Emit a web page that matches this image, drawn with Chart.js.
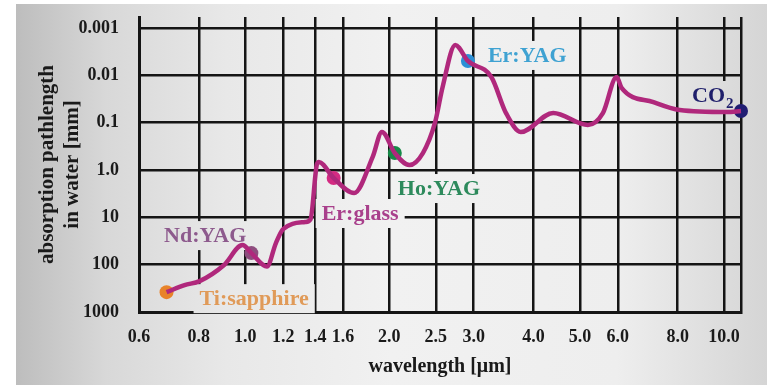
<!DOCTYPE html>
<html>
<head>
<meta charset="utf-8">
<script src="https://cdn.jsdelivr.net/npm/chart.js@4.4.1/dist/chart.umd.min.js"></script>
<style>
  html, body { margin: 0; padding: 0; background: #fff; }
  canvas { display: block; }
</style>
</head>
<body>
<canvas id="waterChart" width="767" height="385"></canvas>
<script>
// absorption curve of water
const wavelength = [0.685, 0.747, 0.803, 0.902, 0.987, 1.03, 1.11, 1.159, 1.2, 1.334, 1.369, 1.412, 1.425,
  1.53, 1.688, 1.846, 1.93, 2.053, 2.202, 2.35, 2.49, 2.584, 2.746, 2.918, 3.266, 3.505, 3.762,
  4.398, 5.197, 5.584, 5.967, 6.11, 7.12, 8.08, 10.14, 10.85];
const pathlength = [381, 271, 223, 103, 38.7, 57, 110, 35, 17.8, 12.6, 11, 0.75, 0.68,
  1.48, 3.08, 0.53, 0.158, 0.44, 0.79, 0.44, 0.102, 0.0177, 0.00229, 0.005, 0.0109, 0.063, 0.158,
  0.0627, 0.112, 0.063, 0.0109, 0.0185, 0.037, 0.0542, 0.0597, 0.057];

// laser lines
const laserNames = ['Ti:sapphire', 'Nd:YAG', 'Er:glass', 'Ho:YAG', 'Er:YAG', 'CO2'];
const laserWavelength = [0.685, 1.03, 1.53, 2.053, 2.918, 10.85];
const laserPathlength = [381, 57, 1.48, 0.44, 0.005, 0.057];

const xTicks = [0.6, 0.8, 1.0, 1.2, 1.4, 1.6, 2.0, 2.5, 3.0, 4.0, 5.0, 6.0, 8.0, 10.0];
const xTickLabels = ['0.6', '0.8', '1.0', '1.2', '1.4', '1.6', '2.0', '2.5', '3.0', '4.0', '5.0', '6.0', '8.0', '10.0'];
const yTicks = [0.001, 0.01, 0.1, 1, 10, 100, 1000];
const yTickLabels = ['0.001', '0.01', '0.1', '1.0', '10', '100', '1000'];

const X_MIN = 0.6, X_MAX = 10.85, Y_TOP = 0.00059, Y_BOTTOM = 1000;

const dotColors = ['#e8832a', '#8e4d7e', '#d42a82', '#178a48', '#2b8fd6', '#201c72'];
const textColors = ['#e09a58', '#8d5a8d', '#a9408c', '#2d8a5c', '#3fa2d2', '#1f1f6b'];
// [dx, dy, align] of the label baseline relative to its dot
const labelPlace = [[33, 13, 'left'], [-5, -11, 'right'], [-12, 42, 'left'], [3, 42, 'left'], [20, 1, 'left'], [-49, -9, 'left']];

const serif = 'Liberation Serif';
const ink = '#151515';

// grey panel behind everything; label boxes reuse it so they blend in
function panelGradient(ctx) {
    const g = ctx.createLinearGradient(16, 0, 767, 0);
    [[0, '#bdbdbd'], [0.12, '#d8d8d8'], [0.28, '#e8e8e8'], [0.5, '#f1f1f1'], [0.8, '#eeeeee'], [1, '#d5d5d5']]
        .forEach(([o, c]) => g.addColorStop(o, c));
    return g;
}

const panel = {
    id: 'panel',
    beforeDraw(chart) {
        const { ctx, width, height } = chart;
        ctx.save();
        ctx.fillStyle = '#ffffff';
        ctx.fillRect(0, 0, width, height);
        ctx.fillStyle = panelGradient(ctx);
        ctx.fillRect(16, 4, width - 16, height - 4);
        ctx.restore();
    }
};

const laserLabels = {
    id: 'laserLabels',
    beforeDatasetsDraw(chart) {
        const { ctx, scales: { x, y } } = chart;
        ctx.save();
        laserNames.forEach((name, i) => {
            const m = name.match(/^(.*?)(\d)$/);
            const base = m ? m[1] : name;
            const sub = m ? m[2] : '';
            ctx.font = 'bold 22px "' + serif + '"';
            const wBase = ctx.measureText(base).width;
            ctx.font = 'bold 15px "' + serif + '"';
            const wSub = sub ? ctx.measureText(sub).width + 1 : 0;
            const w = wBase + wSub;
            const px = x.getPixelForValue(laserWavelength[i]);
            const py = y.getPixelForValue(laserPathlength[i]);
            const [dx, dy, align] = labelPlace[i];
            const left = align === 'right' ? px + dx - w : px + dx;
            const baseY = py + dy;
            ctx.fillStyle = panelGradient(ctx);
            ctx.fillRect(left - 6, baseY - 21, w + 12, 29);
            ctx.fillStyle = textColors[i];
            ctx.textAlign = 'left';
            ctx.textBaseline = 'alphabetic';
            ctx.font = 'bold 22px "' + serif + '"';
            ctx.fillText(base, left, baseY);
            if (sub) {
                ctx.font = 'bold 15px "' + serif + '"';
                ctx.fillText(sub, left + wBase + 1, baseY + 6);
            }
        });
        ctx.restore();
    }
};

// fixed axis sizes, no extra label padding around the plot
function fixY(scale) {
    scale.width = 123;
    scale.paddingTop = 0;
    scale.paddingBottom = 0;
}
function fixX(scale) {
    scale.height = 73;
    scale.paddingLeft = 0;
    scale.paddingRight = 0;
}

const ctx = document.getElementById('waterChart').getContext('2d');
new Chart(ctx, {
    type: 'line',
    data: {
        datasets: [{
            data: wavelength.map((w, i) => ({ x: w, y: pathlength[i] })),
            borderColor: '#b0287c',
            borderWidth: 4.5,
            pointRadius: 0,
            cubicInterpolationMode: 'monotone',
            clip: false
        }, {
            data: laserWavelength.map((w, i) => ({ x: w, y: laserPathlength[i] })),
            showLine: false,
            pointRadius: 7,
            pointBorderWidth: 0,
            pointBackgroundColor: dotColors,
            clip: false
        }]
    },
    options: {
        responsive: false,
        animation: false,
        devicePixelRatio: 1,
        layout: { padding: { left: 16, top: 17, right: 26, bottom: 0 } },
        plugins: { legend: { display: false }, tooltip: { enabled: false } },
        scales: {
            x: {
                type: 'logarithmic',
                min: X_MIN,
                max: X_MAX,
                afterBuildTicks: (scale) => { scale.ticks = xTicks.concat([X_MAX]).map(v => ({ value: v })); },
                afterFit: fixX,
                ticks: {
                    autoSkip: false, maxRotation: 0, padding: 15, color: '#1a1a1a',
                    font: { family: serif, size: 18, weight: 'bold' },
                    callback: (v, i) => xTickLabels[i] ?? ''
                },
                grid: { color: ink, lineWidth: 2.5, drawTicks: false },
                border: { color: ink, width: 3 },
                title: {
                    display: true, text: 'wavelength [μm]', color: '#1a1a1a',
                    font: { family: serif, size: 20, weight: 'bold', lineHeight: 1.2 },
                    padding: { top: 0, bottom: 6 }
                }
            },
            y: {
                type: 'logarithmic',
                reverse: true,
                min: Y_TOP,
                max: Y_BOTTOM,
                afterBuildTicks: (scale) => { scale.ticks = yTicks.map(v => ({ value: v })); },
                afterFit: fixY,
                ticks: {
                    autoSkip: false, padding: 20, color: '#1a1a1a',
                    font: { family: serif, size: 18, weight: 'bold' },
                    callback: (v, i) => yTickLabels[i]
                },
                grid: { color: ink, lineWidth: 2.5, drawTicks: false },
                border: { color: ink, width: 3 },
                title: {
                    display: true, text: ['absorption pathlength', 'in water [mm]'], color: '#1a1a1a',
                    font: { family: serif, size: 21, weight: 'bold', lineHeight: 1.15 },
                    padding: { top: 20, bottom: 0 }
                }
            }
        }
    },
    plugins: [panel, laserLabels]
});
</script>
</body>
</html>
